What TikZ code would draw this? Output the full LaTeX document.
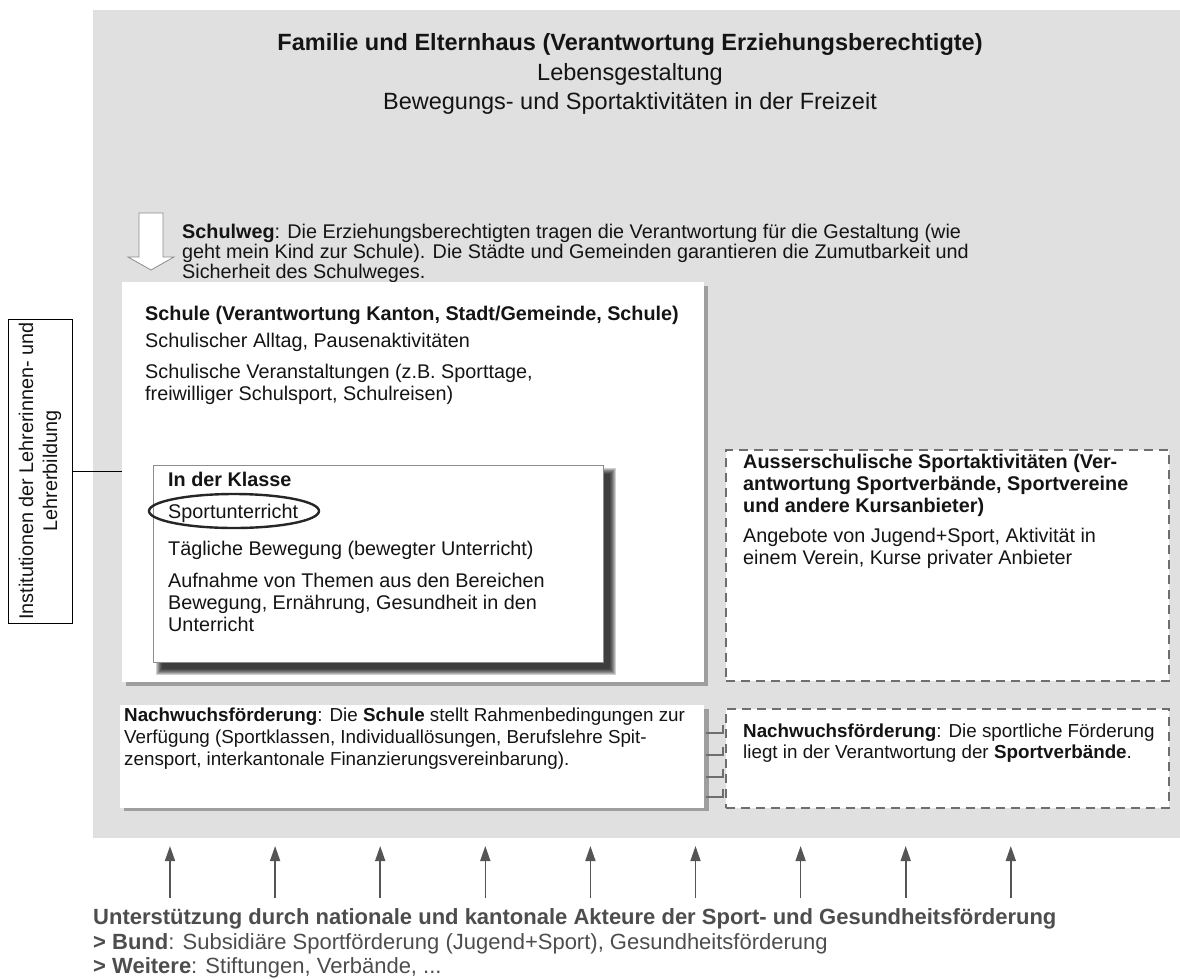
\documentclass[tikz,border=0pt]{standalone}
\usepackage{fontspec}
\setmainfont{Liberation Sans}
\usetikzlibrary{arrows.meta}
\definecolor{bggrey}{HTML}{E0E0E0}
\definecolor{shadowgrey}{HTML}{9E9E9E}
\definecolor{dashgrey}{HTML}{6E6E6E}
\definecolor{footgrey}{HTML}{4D4D4D}
\definecolor{arrowgrey}{HTML}{555555}
\definecolor{inktext}{HTML}{141414}
\newcommand\setfs[1]{\fontsize{#1}{#1}\selectfont}
\tikzset{
  txt/.style={inner sep=0pt, anchor=base west, text=inktext, font=\setfs{19.8}},
  smalltxt/.style={txt, font=\setfs{18.8}},
  ttl/.style={inner sep=0pt, anchor=base, text=inktext, font=\setfs{23.5}},
  foot/.style={inner sep=0pt, anchor=base west, text=footgrey, font=\setfs{22}},
  whitebox/.style={fill=white, draw=none, inner sep=0pt, anchor=north west},
  dashbox/.style={fill=white, draw=dashgrey, line width=2.2pt, dash pattern=on 9pt off 6pt, inner sep=0pt, anchor=north west},
  support/.style={draw=arrowgrey, line width=1.6pt, -{Triangle[width=10pt,length=15pt]}},
  ladder/.style={draw=dashgrey, line width=1.4pt},
}
\begin{document}
\begin{tikzpicture}[x=1pt,y=-1pt]
\useasboundingbox (0,0) rectangle (1180,978);
% background
\fill[bggrey] (93,10) rectangle (1180,838);

% title block
\node[ttl] (t1) at (630,50) {\textbf{Familie und Elternhaus (Verantwortung Erziehungsberechtigte)}};
\node[ttl] (t2) at (630,80) {Lebensgestaltung};
\node[ttl] (t3) at (630,109) {Bewegungs- und Sportaktivitäten in der Freizeit};

% hollow arrow (Schulweg)
\draw[fill=white, draw=black!45, line width=0.8pt] (139,213) -- (163,213) -- (163,257) -- (174,257) -- (151,270) -- (128,257) -- (139,257) -- cycle;
\node[txt] (sw1) at (182,238) {\textbf{Schulweg}: Die Erziehungsberechtigten tragen die Verantwortung für die Gestaltung (wie};
\node[txt] (sw2) at (182,258) {geht mein Kind zur Schule). Die Städte und Gemeinden garantieren die Zumutbarkeit und};
\node[txt] (sw3) at (182,278) {Sicherheit des Schulweges.};

% Schule box
\fill[shadowgrey] (126,286) rectangle (708,686);
\node[whitebox, minimum width=582pt, minimum height=400pt] (schule) at (122,282) {};
\node[txt] (s1) at (145,320) {\textbf{Schule (Verantwortung Kanton, Stadt/Gemeinde, Schule)}};
\node[txt] (s2) at (145,347) {Schulischer Alltag, Pausenaktivitäten};
\node[txt] (s3) at (145,378) {Schulische Veranstaltungen (z.B. Sporttage,};
\node[txt] (s4) at (145,400) {freiwilliger Schulsport, Schulreisen)};

% In der Klasse box with soft shadow
\foreach \r in {5,4,3,2,1,0,-1}{
  \fill[black, opacity=0.18] (161-\r,473-\r) rectangle (611+\r,670+\r);
}
\node[whitebox, draw=black!45, line width=0.8pt, minimum width=450pt, minimum height=197pt] (klasse) at (153,465) {};
\node[txt] (k1) at (168,486) {\textbf{In der Klasse}};
\node[txt] (k2) at (168,518) {Sportunterricht};
\draw[line width=2.4pt, draw=black!85] (234,511) ellipse [x radius=85, y radius=17];
\node[txt] (k3) at (168,555) {Tägliche Bewegung (bewegter Unterricht)};
\node[txt] (k4) at (168,587) {Aufnahme von Themen aus den Bereichen};
\node[txt] (k5) at (168,609) {Bewegung, Ernährung, Gesundheit in den};
\node[txt] (k6) at (168,631) {Unterricht};

% Lehrerbildung box
\node[draw=black, line width=1pt, fill=white, inner sep=0pt, minimum width=304pt, minimum height=64pt, rotate=90, anchor=center] (inst) at (40,471) {};
\node[inner sep=0pt, rotate=90, align=center, text=inktext, font=\fontsize{19.8}{24}\selectfont] (insttxt) at (40,471) {Institutionen der Lehrerinnen- und\\Lehrerbildung};
\draw[line width=1pt] (inst.south) -- (inst.south -| schule.west);

% Ausserschulische box
\node[dashbox, minimum width=443pt, minimum height=231pt] (ausser) at (725,449) {};
\node[txt] (a1) at (743,468) {\textbf{Ausserschulische Sportaktivitäten (Ver-}};
\node[txt] (a2) at (743,490) {\textbf{antwortung Sportverbände, Sportvereine}};
\node[txt] (a3) at (743,512) {\textbf{und andere Kursanbieter)}};
\node[txt] (a4) at (743,542) {Angebote von Jugend+Sport, Aktivität in};
\node[txt] (a5) at (743,564) {einem Verein, Kurse privater Anbieter};

% Nachwuchs school box
\fill[shadowgrey] (124,709) rectangle (709,811);
\node[whitebox, minimum width=584pt, minimum height=103pt] (nwschule) at (120,705) {};
\node[smalltxt] (n1) at (124,721) {\textbf{Nachwuchsförderung}: Die \textbf{Schule} stellt Rahmenbedingungen zur};
\node[smalltxt] (n2) at (124,743) {Verfügung (Sportklassen, Individuallösungen, Berufslehre Spit-};
\node[smalltxt] (n3) at (124,765) {zensport, interkantonale Finanzierungsvereinbarung).};

% ladder between
\foreach \yy in {733,755,777,797}{
  \draw[ladder] (706,\yy) -- (723,\yy) -- (723,\yy-8);
}

% Nachwuchs sport box
\node[dashbox, minimum width=443pt, minimum height=99pt] (nwsport) at (725,708) {};
\node[smalltxt] (m1) at (743,737) {\textbf{Nachwuchsförderung}: Die sportliche Förderung};
\node[smalltxt] (m2) at (743,758) {liegt in der Verantwortung der \textbf{Sportverbände}.};

% support arrows
\foreach \i in {0,...,8}{
  \coordinate (top\i) at (170+105.1*\i,846);
  \coordinate (bot\i) at (170+105.1*\i,898);
  \draw[support] (bot\i) -- (top\i);
}

% footer
\node[foot] (f1) at (93,924) {\textbf{Unterstützung durch nationale und kantonale Akteure der Sport- und Gesundheitsförderung}};
\node[foot] (f2) at (93,949) {\textbf{> Bund}: Subsidiäre Sportförderung (Jugend+Sport), Gesundheitsförderung};
\node[foot] (f3) at (93,973) {\textbf{> Weitere}: Stiftungen, Verbände, ...};
\end{tikzpicture}
\end{document}
